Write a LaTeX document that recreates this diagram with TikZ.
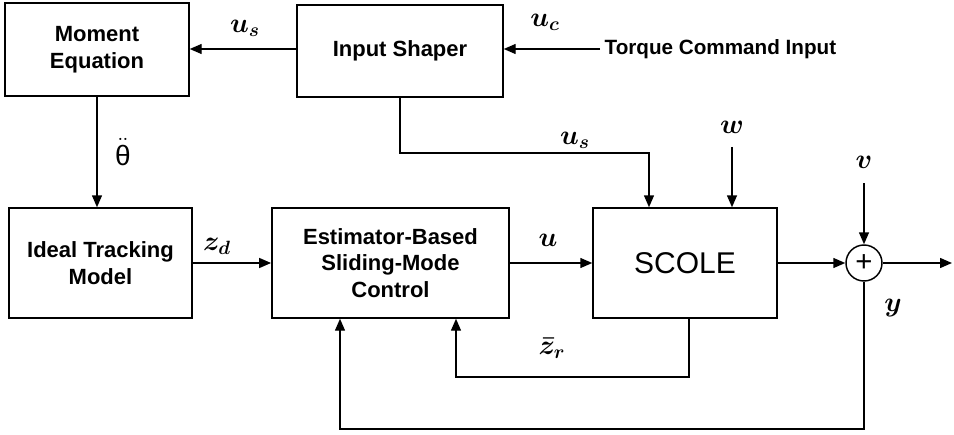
\documentclass[tikz,border=0pt]{standalone}
\usepackage{fontspec}
\setmainfont{Liberation Sans}
\usepackage{amsmath}
\usetikzlibrary{arrows.meta}

\tikzset{
  block/.style={draw, line width=1.1pt, align=center, inner sep=2pt,
    font=\bfseries\fontsize{16.5}{20}\selectfont},
  sig/.style={line width=1.1pt, -{Triangle[length=9pt,width=7.5pt]}},
  lbl/.style={font=\boldmath\fontsize{20}{22}\selectfont, inner sep=1pt},
}

\begin{document}
\begin{tikzpicture}[x=0.75pt,y=-0.75pt]
\useasboundingbox (0,0) rectangle (954,435);
%the blocks
\node[block, minimum width=138pt, minimum height=70pt] (moment) at (97,49.5) {Moment\\Equation};
\node[block, minimum width=154.5pt, minimum height=69pt] (shaper) at (400,51) {Input Shaper};
\node[block, minimum width=137pt, minimum height=82.5pt] (tracking) at (100.5,263) {Ideal Tracking\\Model};
\node[block, minimum width=178pt, minimum height=82.5pt] (control) at (390.5,263) {Estimator-Based\\Sliding-Mode\\Control};
\node[block, minimum width=138pt, minimum height=82.5pt, font=\fontsize{22.5}{24}\selectfont] (scole) at (685,263) {SCOLE};
\node[draw, circle, line width=1.1pt, minimum size=27pt, inner sep=0pt, font=\fontsize{22}{22}\selectfont] (sum) at (864,263) {+};
%command input
\node[anchor=west, font=\bfseries\fontsize{15.5}{18}\selectfont] (cmd) at (600,49) {Torque Command Input};
%bend points and free ends
\coordinate (usin) at (649,153);
\coordinate (w) at (732,147);
\coordinate (v) at (864,183);
\coordinate (out) at (952,263);
\coordinate (zr) at (456,377);
\coordinate (fb) at (340,429);
%signals along the top
\draw[sig] (cmd.west) -- (cmd.west -| shaper.east);
\draw[sig] (cmd.west -| shaper.west) -- (cmd.west -| moment.east);
\draw[sig] (moment.south) -- (moment.south |- tracking.north);
\draw[sig] (shaper.south) |- (usin) -- (usin |- scole.north);
\draw[sig] (w) -- (w |- scole.north);
%main forward path
\draw[sig] (tracking.east) -- (tracking.east -| control.west);
\draw[sig] (control.east) -- (control.east -| scole.west);
\draw[sig] (scole.east) -- (sum.west);
\draw[sig] (v) -- (sum.north);
\draw[sig] (sum.east) -- (out);
%feedback loops
\draw[sig] (scole.south -| 689,0) |- (zr) -- (zr |- control.south);
\draw[sig] (sum.south) |- (fb) -- (fb |- control.south);
%labels
\node[lbl] at (245,28) {$u_s$};
\node[lbl] at (545,22) {$u_c$};
\node[lbl, font=\fontsize{21}{23}\selectfont] at (123,152) {$\ddot{\mbox{θ}}$};
\node[lbl] at (217,246) {$z_d$};
\node[lbl] at (548,240) {$u$};
\node[lbl] at (575,140) {$u_s$};
\node[lbl] at (732,127) {$w$};
\node[lbl] at (864,162) {$v$};
\node[lbl] at (893,308) {$y$};
\node[lbl] at (552,348) {$\bar{z}_r$};
\end{tikzpicture}
\end{document}
